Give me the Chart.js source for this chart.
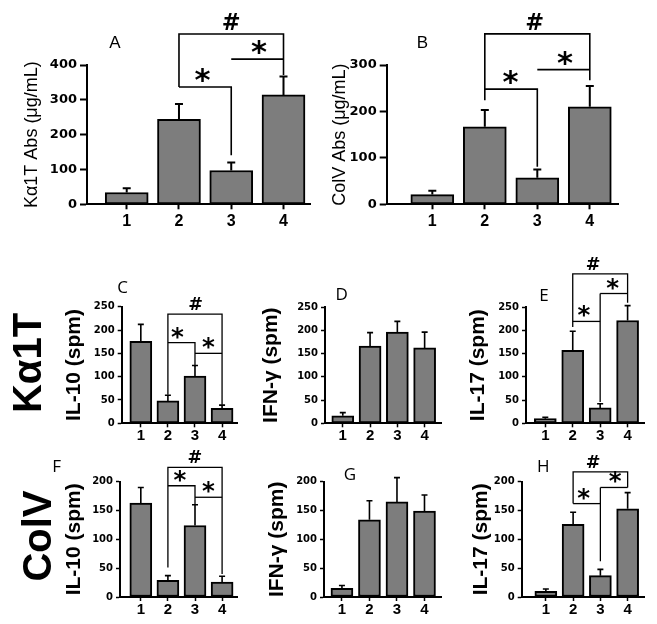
<!DOCTYPE html>
<html><head><meta charset="utf-8">
<script src="https://cdn.jsdelivr.net/npm/chart.js@4.4.1/dist/chart.umd.min.js"></script>
<style>
html,body{margin:0;padding:0;background:#fff;}
#wrap{position:relative;width:657px;height:624px;overflow:hidden;background:#fff;}
#wrap canvas{position:absolute;left:0;top:0;}
.lbl{position:absolute;white-space:nowrap;line-height:1;color:#000;transform:translate(-50%,-50%);}
.rot{transform:translate(-50%,-50%) rotate(-90deg);}
</style></head>
<body><div id="wrap"></div>
<script>
// ---------- data ----------
const categories = ['1', '2', '3', '4'];

const ka1tAbsTicks = [0, 100, 200, 300, 400];
const colvAbsTicks = [0, 100, 200, 300];
const ka1tSpmTicks = [0, 50, 100, 150, 200, 250];
const colvSpmTicks = [0, 50, 100, 150, 200];

const ka1tAbsMean = [34, 244, 97, 314];
const ka1tAbsSem  = [12, 44, 23, 53];
const colvAbsMean = [21, 167, 57, 210];
const colvAbsSem  = [8, 36, 18, 45];

const ka1tIL10Mean = [176, 48, 101, 32];
const ka1tIL10Sem  = [36, 12, 23, 7];
const ka1tIFNgMean = [16, 166, 196, 162];
const ka1tIFNgSem  = [7, 29, 23, 34];
const ka1tIL17Mean = [10, 157, 33, 221];
const ka1tIL17Sem  = [3, 41, 9, 32];

const colvIL10Mean = [163, 29, 124, 26];
const colvIL10Sem  = [27, 8, 36, 10];
const colvIFNgMean = [15, 134, 165, 149];
const colvIFNgSem  = [5, 33, 42, 28];
const colvIL17Mean = [10, 126, 37, 153];
const colvIL17Sem  = [4, 21, 11, 28];

// significance brackets: polylines of [group, value]; marks: [group, value, text]
const bracketsA = [[[2,337],[2,489],[4,489],[4,371]], [[2,337],[3,337],[3,141]], [[3,417],[4,417]]];
const marksA    = [[3,489,'#'], [2.45,337,'*'], [3.53,417,'*']];
const bracketsB = [[[2,224],[2,367],[4,367],[4,267]], [[2,248],[3,248],[3,81]], [[3,290],[4,290]]];
const marksB    = [[2.95,367,'#'], [2.49,248,'*'], [3.53,290,'*']];
const bracketsC = [[[2,61],[2,234],[4,234],[4,40]], [[2,173],[3,173],[3,121]], [[3,150],[4,150]]];
const marksC    = [[3.03,234,'#'], [2.35,173,'*'], [3.5,150,'*']];
const bracketsE = [[[2,207],[2,321],[4,321],[4,259]], [[2,219],[3,219]], [[3,279],[3,46]], [[3,279],[4,279]]];
const marksE    = [[2.75,321,'#'], [2.41,219,'*'], [3.46,279,'*']];
const bracketsF = [[[2,51],[2,225],[4,225],[4,40]], [[2,193],[3,193],[3,160]], [[3,173],[4,173]]];
const marksF    = [[3.0,225,'#'], [2.45,193,'*'], [3.5,173,'*']];
const bracketsH = [[[2,162],[2,217],[4,217],[4,190]], [[2,162],[3,162]], [[3,190],[3,62]], [[3,190],[4,190]]];
const marksH    = [[2.74,217,'#'], [2.39,162,'*'], [3.55,190,'*']];

// ---------- layout / style ----------
const W = 657, H = 624, X_AXIS_H = 30;
const SANS = '"Liberation Sans", Arial, sans-serif';
const MARKFONT = '"DejaVu Sans", sans-serif';
const barFill = '#7d7d7d';

const topStyle = {barW:43, barBorder:2, axisW:2, tickW:2, xTickLen:5, xTickSize:16, xTickPad:3,
  yTickSize:13, yTickPad:3, yTickLen:7, titleSize:18, titleWeight:'normal',
  errW:2, cap:8, brW:1.6, starW:15, hashW:16, markGap:4};
const midStyle = {barW:22, barBorder:2, axisW:2, tickW:1.5, xTickLen:4, xTickSize:15, xTickPad:0,
  yTickSize:10, yTickPad:3, yTickLen:4, titleSize:21, titleWeight:'bold',
  errW:1.6, cap:6, brW:1.3, starW:12, hashW:12.5, markGap:4};

const panels = [
  {row:'top', mean:ka1tAbsMean, sem:ka1tAbsSem, ticks:ka1tAbsTicks, lines:bracketsA, marks:marksA,
   title:'Kα1T Abs (μg/mL)', L:87, R:310, T:65, B:204.3, xmin:0.24, xmax:4.507, TX:32},
  {row:'top', mean:colvAbsMean, sem:colvAbsSem, ticks:colvAbsTicks, lines:bracketsB, marks:marksB,
   title:'ColV Abs (μg/mL)', L:386.7, R:618.3, T:65, B:204.3, xmin:0.131, xmax:4.543, TX:340},
  {row:'mid', mean:ka1tIL10Mean, sem:ka1tIL10Sem, ticks:ka1tSpmTicks, lines:bracketsC, marks:marksC,
   title:'IL-10 (spm)', L:121.7, R:237.5, T:306.7, B:423.3, xmin:0.294, xmax:4.57, TX:74},
  {row:'mid', mean:ka1tIFNgMean, sem:ka1tIFNgSem, ticks:ka1tSpmTicks, lines:[], marks:[],
   title:'IFN-γ (spm)', L:325, R:441, T:307, B:423.3, xmin:0.348, xmax:4.6, TX:271.5},
  {row:'mid', mean:ka1tIL17Mean, sem:ka1tIL17Sem, ticks:ka1tSpmTicks, lines:bracketsE, marks:marksE,
   title:'IL-17 (spm)', L:526, R:644.6, T:307, B:423.3, xmin:0.296, xmax:4.62, TX:478},
  {row:'mid', mean:colvIL10Mean, sem:colvIL10Sem, ticks:colvSpmTicks, lines:bracketsF, marks:marksF,
   title:'IL-10 (spm)', L:120, R:237, T:481.7, B:597, xmin:0.232, xmax:4.55, TX:74},
  {row:'mid', mean:colvIFNgMean, sem:colvIFNgSem, ticks:colvSpmTicks, lines:[], marks:[],
   title:'IFN-γ (spm)', L:324, R:441, T:481.7, B:597, xmin:0.348, xmax:4.6, TX:277},
  {row:'mid', mean:colvIL17Mean, sem:colvIL17Sem, ticks:colvSpmTicks, lines:bracketsH, marks:marksH,
   title:'IL-17 (spm)', L:521.7, R:644, T:481.7, B:597, xmin:0.114, xmax:4.6, TX:481},
];

const htmlLabels = [
  {t:'A', x:115, y:43, font:'17px ' + SANS},
  {t:'B', x:422.5, y:42.5, font:'17px ' + SANS},
  {t:'C', x:122.5, y:286, font:'17px "Open Sans", sans-serif'},
  {t:'D', x:341.7, y:293.3, font:'17px "Open Sans", sans-serif'},
  {t:'E', x:544, y:294.3, font:'17px "Open Sans", sans-serif'},
  {t:'F', x:56.7, y:464.5, font:'17px "Open Sans", sans-serif'},
  {t:'G', x:350, y:473.3, font:'17px "Open Sans", sans-serif'},
  {t:'H', x:543.3, y:464.8, font:'17px "Open Sans", sans-serif'},
  {t:'Kα1T', x:27, y:363, font:'bold 40px ' + SANS, rot:true},
  {t:'ColV', x:37, y:536, font:'bold 40px ' + SANS, rot:true},
];

const wrap = document.getElementById('wrap');

function annot(p, st) {
  return {
    id: 'annot',
    afterDatasetsDraw(chart) {
      const ctx = chart.ctx, xs = chart.scales.x, ys = chart.scales.y;
      ctx.save();
      ctx.strokeStyle = '#000';
      ctx.lineCap = 'butt';
      ctx.lineWidth = st.errW;
      p.mean.forEach((m, i) => {
        const px = xs.getPixelForValue(i + 1);
        const y0 = ys.getPixelForValue(m);
        const y1 = ys.getPixelForValue(m + p.sem[i]);
        ctx.beginPath();
        ctx.moveTo(px, y0); ctx.lineTo(px, y1);
        ctx.moveTo(px - st.cap / 2, y1); ctx.lineTo(px + st.cap / 2, y1);
        ctx.stroke();
      });
      ctx.lineWidth = st.brW;
      ctx.lineJoin = 'miter';
      p.lines.forEach(pl => {
        ctx.beginPath();
        pl.forEach(([vx, vy], k) => {
          const X = xs.getPixelForValue(vx), Y = ys.getPixelForValue(vy);
          if (k) ctx.lineTo(X, Y); else ctx.moveTo(X, Y);
        });
        ctx.stroke();
      });
      ctx.fillStyle = '#000';
      ctx.textAlign = 'left';
      ctx.textBaseline = 'alphabetic';
      p.marks.forEach(([vx, vy, t]) => {
        const target = t === '*' ? st.starW : st.hashW;
        ctx.font = 'bold 100px ' + MARKFONT;
        let m = ctx.measureText(t);
        const size = 100 * target / (m.actualBoundingBoxLeft + m.actualBoundingBoxRight);
        ctx.font = 'bold ' + size.toFixed(2) + 'px ' + MARKFONT;
        m = ctx.measureText(t);
        const gh = m.actualBoundingBoxAscent + m.actualBoundingBoxDescent;
        const cx = xs.getPixelForValue(vx);
        const cy = ys.getPixelForValue(vy) - st.markGap - gh / 2;
        ctx.fillText(t, cx - (m.actualBoundingBoxRight - m.actualBoundingBoxLeft) / 2,
                     cy + (m.actualBoundingBoxAscent - m.actualBoundingBoxDescent) / 2);
      });
      ctx.restore();
    }
  };
}

function makeChart(p) {
  const st = p.row === 'top' ? topStyle : midStyle;
  const cv = document.createElement('canvas');
  cv.width = W; cv.height = H;
  cv.style.width = W + 'px'; cv.style.height = H + 'px';
  wrap.appendChild(cv);
  const lh = st.titleSize * 1.2;
  new Chart(cv, {
    type: 'bar',
    data: {
      datasets: [{
        data: p.mean.map((v, i) => ({x: i + 1, y: v})),
        backgroundColor: barFill,
        borderColor: '#000',
        borderWidth: st.barBorder,
        borderSkipped: false,
        barThickness: st.barW
      }]
    },
    options: {
      responsive: false,
      animation: false,
      devicePixelRatio: 1,
      events: [],
      layout: {padding: {left: 0, top: p.T, right: W - p.R, bottom: H - p.B - X_AXIS_H}},
      plugins: {legend: {display: false}, tooltip: {enabled: false}},
      scales: {
        x: {
          type: 'linear', min: p.xmin, max: p.xmax, offset: false,
          afterBuildTicks: s => { s.ticks = categories.map((c, i) => ({value: i + 1})); },
          afterFit: s => { s.height = X_AXIS_H; },
          ticks: {
            callback: v => categories[Math.round(v) - 1],
            font: {family: SANS, weight: 'bold', size: st.xTickSize},
            color: '#000', padding: st.xTickPad, autoSkip: false, maxRotation: 0
          },
          grid: {display: true, drawOnChartArea: false, drawTicks: true, offset: false,
                 tickLength: st.xTickLen, tickWidth: st.tickW, tickColor: '#000', color: '#000'},
          border: {display: true, color: '#000', width: st.axisW}
        },
        y: {
          min: 0, max: p.ticks[p.ticks.length - 1],
          afterBuildTicks: s => { s.ticks = p.ticks.map(v => ({value: v})); },
          afterFit: s => { s.width = p.L; },
          ticks: {
            font: {family: '"DejaVu Sans", sans-serif', weight: 'bold', size: st.yTickSize},
            color: '#000', padding: st.yTickPad, autoSkip: false
          },
          grid: {display: true, drawOnChartArea: false, drawTicks: true,
                 tickLength: st.yTickLen, tickWidth: st.tickW, tickColor: '#000', color: '#000'},
          border: {display: true, color: '#000', width: st.axisW},
          title: {
            display: true, text: p.title, color: '#000',
            font: {family: SANS, size: st.titleSize, weight: st.titleWeight},
            padding: {top: p.TX - lh / 2, bottom: 0}
          }
        }
      }
    },
    plugins: [annot(p, st)]
  });
}

panels.forEach(makeChart);

htmlLabels.forEach(l => {
  const d = document.createElement('div');
  d.className = 'lbl' + (l.rot ? ' rot' : '');
  d.textContent = l.t;
  d.style.left = l.x + 'px';
  d.style.top = l.y + 'px';
  d.style.font = l.font;
  wrap.appendChild(d);
});
</script>
</body></html>
